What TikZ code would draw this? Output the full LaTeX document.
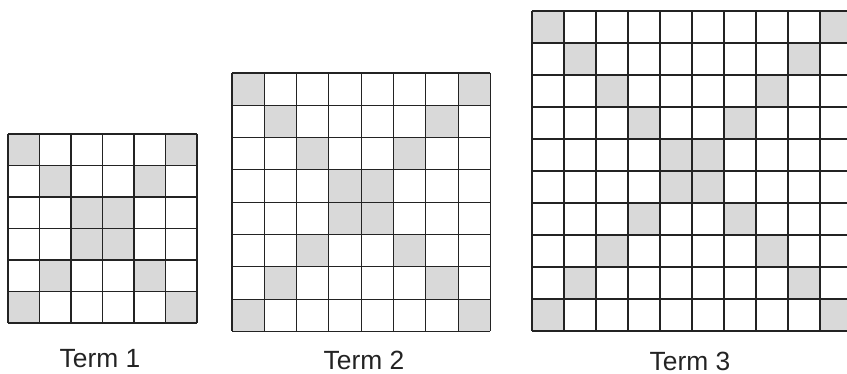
\documentclass[tikz,border=0pt]{standalone}
\usepackage{fontspec}
\newfontfamily\termfont{Liberation Sans}
\usetikzlibrary{math}
\definecolor{cellgray}{RGB}{217,217,217}
\definecolor{lineblack}{RGB}{35,35,35}

\begin{document}
\begin{tikzpicture}[x=0.03cm,y=-0.03cm,
  shadecell/.style={fill=cellgray},
  gridline/.style={draw=lineblack,line width=0.9pt},
  termlabel/.style={anchor=base,inner sep=0pt,text depth=0pt,text=lineblack,font=\termfont\fontsize{22.5}{27}\selectfont}]

\clip (0,0) rectangle (847,374);

% n cells, top left corner, cell size, label position, term number
\foreach \n/\x/\y/\s/\lx/\ly/\t in {6/8/134/31.5/100/367/1, 8/232/73/32.3/364/369/2, 10/532/11/32/690/370/3}{
  \tikzmath{ integer \m; \m=\n-1; }
  \begin{scope}[shift={(\x,\y)}]
    \foreach \i in {0,...,\m}{
      \fill[shadecell] (\i*\s,\i*\s) rectangle ++(\s,\s);
      \fill[shadecell] ({(\m-\i)*\s},\i*\s) rectangle ++(\s,\s);
    }
    \foreach \k in {0,...,\n}{
      \draw[gridline] (\k*\s,0) -- (\k*\s,\n*\s);
      \draw[gridline] (0,\k*\s) -- (\n*\s,\k*\s);
    }
  \end{scope}
  \node[termlabel] (term\t) at (\lx,\ly) {Term \t};
}

\end{tikzpicture}
\end{document}
